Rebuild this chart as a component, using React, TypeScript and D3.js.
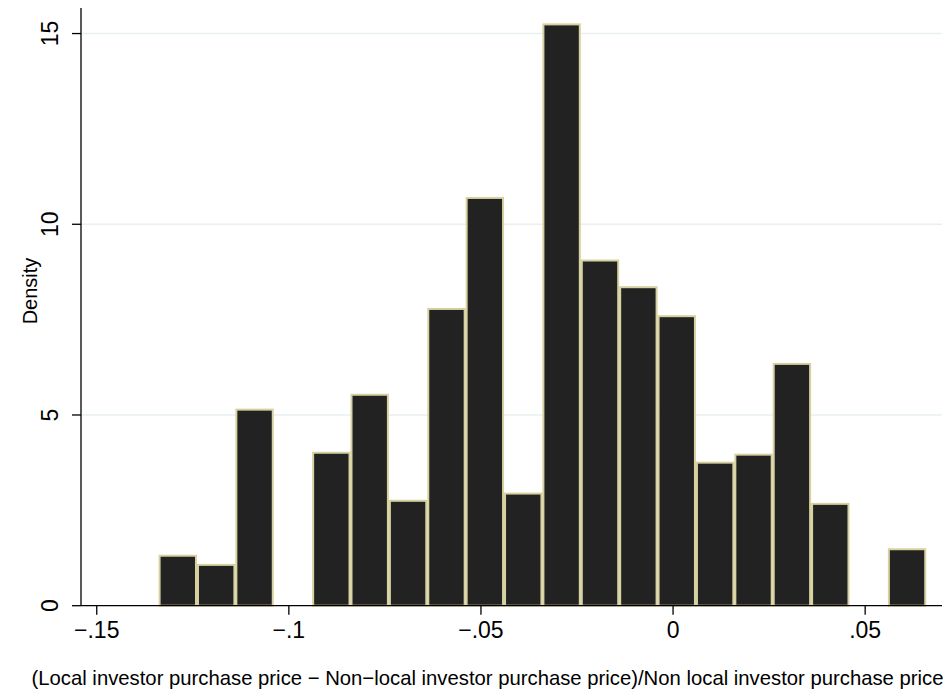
import { useEffect } from "react";
import * as d3 from "d3";

// histogram bins (density), width ~0.01
const binStart = -0.1339;
const binWidth = 0.00999;
const densities = [
  1.31, 1.07, 5.14, 0, 4.01, 5.53, 2.75, 7.78, 10.69, 2.94, 15.24, 9.05, 8.35,
  7.59, 3.75, 3.96, 6.34, 2.67, 0, 1.48,
];
const xTicks = [-0.15, -0.1, -0.05, 0, 0.05];
const xTickLabels = ["−.15", "−.1", "−.05", "0", ".05"];
const yTicks = [0, 5, 10, 15];
const yTickLabels = ["0", "5", "10", "15"];
const xTitle =
  "(Local investor purchase price − Non−local investor purchase price)/Non local investor purchase price";
const yTitle = "Density";

const W = 952;
const H = 695;
const FONT = "'Liberation Sans', Arial, Helvetica, sans-serif";

export default function App() {
  useEffect(() => {
    document.body.style.margin = "0";
  }, []);

  const x = d3.scaleLinear().domain([-0.1541, 0.07]).range([81, 942]);
  const y = d3.scaleLinear().domain([0, 15.67]).range([605.7, 8]);

  const bins = densities.map((d, i) => ({
    x0: binStart + i * binWidth,
    x1: binStart + (i + 1) * binWidth,
    d,
  }));

  return (
    <svg width={W} height={H} style={{ display: "block", background: "#fff" }}>
      {/* gridlines */}
      {yTicks
        .filter((t) => t > 0)
        .map((t) => (
          <line
            key={"g" + t}
            x1={x.range()[0]}
            x2={x.range()[1]}
            y1={y(t)}
            y2={y(t)}
            stroke="#e8f0f2"
            strokeWidth={1.6}
          />
        ))}

      {/* bars */}
      {bins
        .filter((b) => b.d > 0)
        .map((b, i) => (
          <rect
            key={"b" + i}
            x={x(b.x0) + 1}
            y={y(b.d)}
            width={x(b.x1) - x(b.x0) - 2}
            height={y(0) - y(b.d)}
            fill="#222222"
            stroke="#d6d19e"
            strokeWidth={2}
          />
        ))}

      {/* axes */}
      <line x1={81} x2={81} y1={y.range()[1]} y2={y(0)} stroke="#000" strokeWidth={1.3} />
      <line x1={81} x2={x.range()[1]} y1={y(0)} y2={y(0)} stroke="#000" strokeWidth={1.3} />

      {yTicks.map((t, i) => (
        <g key={"yt" + t}>
          <line x1={72} x2={81} y1={y(t)} y2={y(t)} stroke="#000" strokeWidth={1.3} />
          <text
            transform={`translate(58,${y(t)}) rotate(-90)`}
            textAnchor="middle"
            fontFamily={FONT}
            fontSize={23}
            fill="#000"
          >
            {yTickLabels[i]}
          </text>
        </g>
      ))}

      {xTicks.map((t, i) => (
        <g key={"xt" + t}>
          <line x1={x(t)} x2={x(t)} y1={y(0)} y2={y(0) + 9} stroke="#000" strokeWidth={1.3} />
          <text
            x={x(t)}
            y={637.5}
            textAnchor="middle"
            fontFamily={FONT}
            fontSize={23}
            fill="#000"
          >
            {xTickLabels[i]}
          </text>
        </g>
      ))}

      <text
        transform="translate(37,291) rotate(-90)"
        textAnchor="middle"
        fontFamily={FONT}
        fontSize={20}
        fill="#000"
      >
        {yTitle}
      </text>

      <text
        x={487.5}
        y={685}
        textAnchor="middle"
        fontFamily={FONT}
        fontSize={20.3}
        fill="#000"
      >
        {xTitle}
      </text>
    </svg>
  );
}
